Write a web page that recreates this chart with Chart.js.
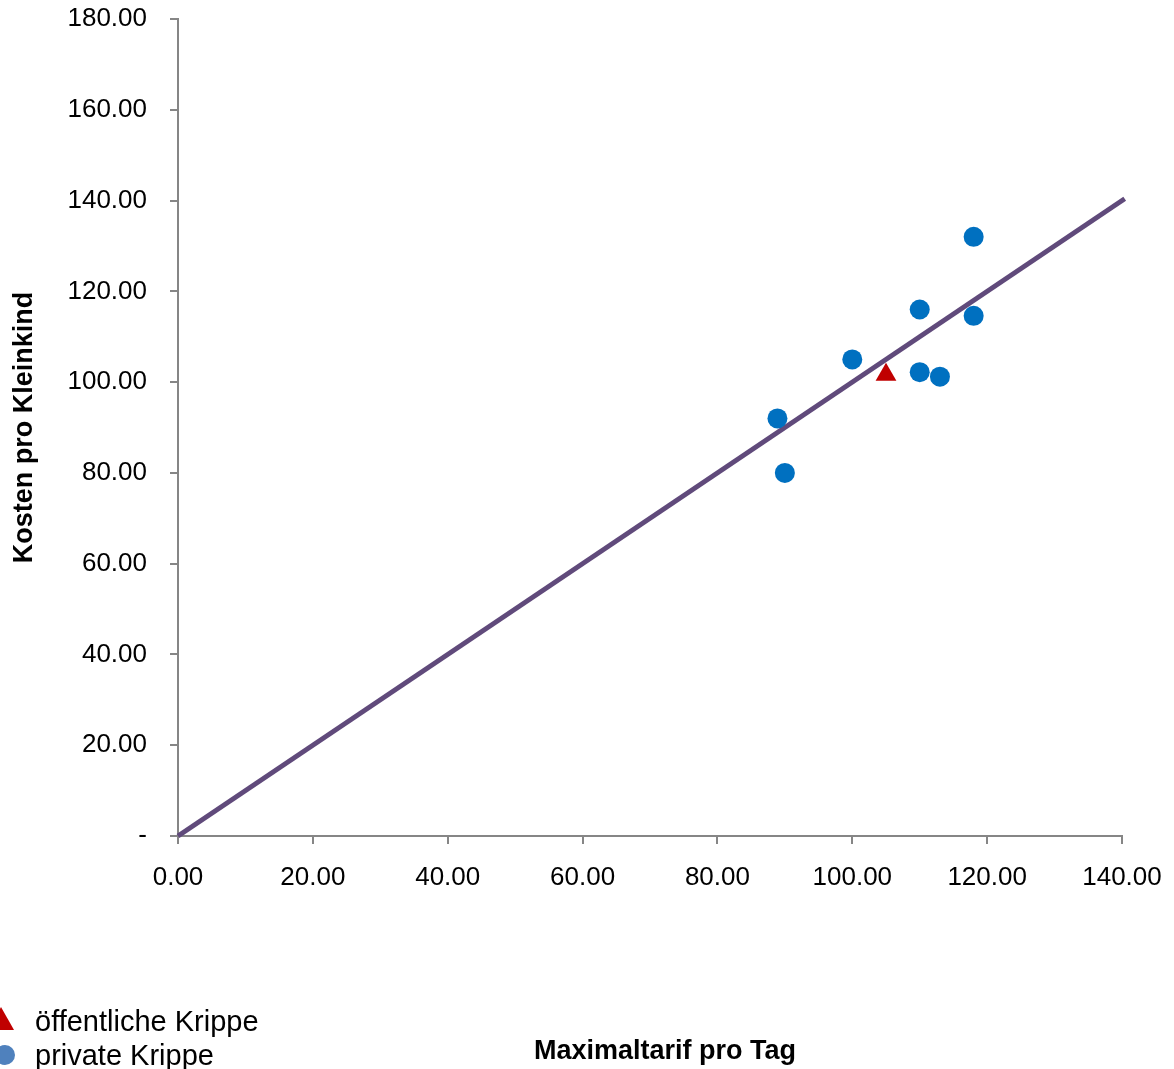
<!DOCTYPE html>
<html>
<head>
<meta charset="utf-8">
<script src="https://cdn.jsdelivr.net/npm/chart.js@4.4.1/dist/chart.umd.min.js"></script>
<style>
  body { margin: 0; background: #fff; }
  #wrap { width: 1174px; height: 1069px; position: relative; }
</style>
</head>
<body>
<div id="wrap"><canvas id="myChart" width="1174" height="1069"></canvas></div>
<script>
// Values
const privateX = [88.9, 90, 100, 110, 110, 113, 118, 118];
const privateY = [92, 80, 105, 116, 102.2, 101.2, 132, 114.6];
const publicX = [105];
const publicY = [101.6];
const trendX = [0, 140.4];
const trendY = [0, 140.4];

// Tick labels
const xTickLabels = ['0.00', '20.00', '40.00', '60.00', '80.00', '100.00', '120.00', '140.00'];
const yTickLabels = ['-', '20.00', '40.00', '60.00', '80.00', '100.00', '120.00', '140.00', '160.00', '180.00'];

const seriesNames = ['öffentliche Krippe', 'private Krippe'];
const xTitle = 'Maximaltarif pro Tag';
const yTitle = 'Kosten pro Kleinkind';

const FONT = '"Liberation Sans", Arial, sans-serif';
const axisGray = '#868686';

function toPoints(xs, ys) {
    return xs.map((x, i) => ({ x: x, y: ys[i] }));
}

// draws the legend in the bottom left and the x title (they share the same rows)
const bottomTexts = {
    id: 'bottomTexts',
    afterDraw(chart) {
        const ctx = chart.ctx;
        ctx.save();
        ctx.fillStyle = '#000';
        ctx.textBaseline = 'middle';
        ctx.textAlign = 'left';
        ctx.font = '29px ' + FONT;
        ctx.fillText(seriesNames[0], 35, 1023);
        ctx.fillText(seriesNames[1], 35, 1057);

        // triangle marker
        ctx.fillStyle = '#C00000';
        ctx.beginPath();
        ctx.moveTo(1, 1007);
        ctx.lineTo(14, 1030);
        ctx.lineTo(-12, 1030);
        ctx.closePath();
        ctx.fill();

        // circle marker
        ctx.fillStyle = '#4F81BD';
        ctx.beginPath();
        ctx.arc(5, 1055, 10, 0, Math.PI * 2);
        ctx.fill();

        ctx.fillStyle = '#000';
        ctx.textAlign = 'center';
        ctx.font = 'bold 27px ' + FONT;
        ctx.fillText(xTitle, 665, 1052);
        ctx.restore();
    }
};

new Chart(document.getElementById('myChart'), {
    type: 'scatter',
    data: {
        datasets: [
            {
                label: seriesNames[0],
                data: toPoints(publicX, publicY),
                pointStyle: 'triangle',
                pointRadius: 12,
                pointHoverRadius: 12,
                backgroundColor: '#C00000',
                borderColor: '#C00000',
                borderWidth: 0
            },
            {
                label: seriesNames[1],
                data: toPoints(privateX, privateY),
                pointStyle: 'circle',
                pointRadius: 10,
                pointHoverRadius: 10,
                backgroundColor: '#0070C0',
                borderColor: '#0070C0',
                borderWidth: 0
            },
            {
                type: 'line',
                label: 'Trend',
                data: toPoints(trendX, trendY),
                borderColor: '#604A7B',
                borderWidth: 5,
                pointRadius: 0,
                fill: false,
                clip: false
            }
        ]
    },
    options: {
        responsive: false,
        animation: false,
        layout: { padding: { top: 19, right: 52, left: 0, bottom: 0 } },
        plugins: {
            legend: { display: false },
            tooltip: { enabled: false }
        },
        scales: {
            x: {
                type: 'linear',
                min: 0,
                max: 140,
                afterFit(scale) {
                    scale.height = 1069 - 836;
                    scale.paddingLeft = 0;
                    scale.paddingRight = 0;
                },
                afterBuildTicks(scale) {
                    scale.ticks = xTickLabels.map((t, i) => ({ value: i * 20 }));
                },
                grid: {
                    drawOnChartArea: false,
                    drawTicks: true,
                    tickLength: 8,
                    color: axisGray,
                    lineWidth: 2
                },
                border: { color: axisGray, width: 2 },
                ticks: {
                    color: '#000',
                    padding: 18,
                    maxRotation: 0,
                    font: { family: FONT, size: 26 },
                    callback: (v, i) => xTickLabels[i]
                }
            },
            y: {
                type: 'linear',
                min: 0,
                max: 180,
                afterFit(scale) {
                    scale.width = 178;
                    scale.paddingTop = 0;
                    scale.paddingBottom = 0;
                },
                afterBuildTicks(scale) {
                    scale.ticks = yTickLabels.map((t, i) => ({ value: i * 20 }));
                },
                grid: {
                    drawOnChartArea: false,
                    drawTicks: true,
                    tickLength: 8,
                    color: axisGray,
                    lineWidth: 2
                },
                border: { color: axisGray, width: 2 },
                ticks: {
                    color: '#000',
                    padding: 23,
                    font: { family: FONT, size: 26 },
                    callback: (v, i) => yTickLabels[i]
                },
                title: {
                    display: true,
                    text: yTitle,
                    color: '#000',
                    font: { family: FONT, size: 27, weight: 'bold' },
                    padding: { top: 8, bottom: 0 }
                }
            }
        }
    },
    plugins: [bottomTexts]
});
</script>
</body>
</html>
